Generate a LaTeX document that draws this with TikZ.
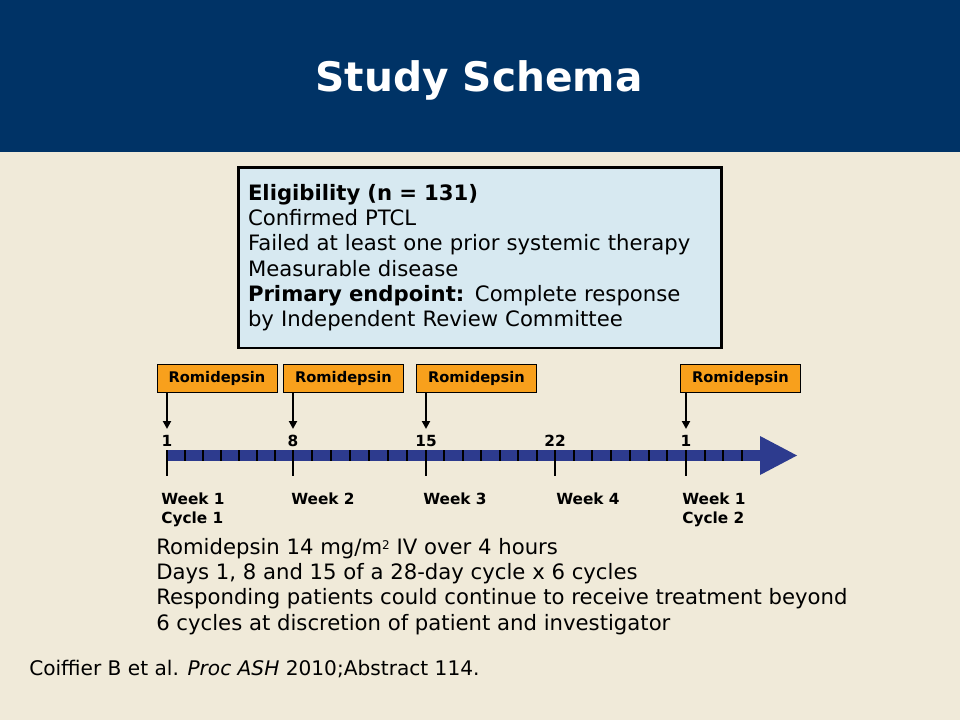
\documentclass[tikz,border=0pt]{standalone}
\usepackage{fontspec}
\setmainfont{DejaVu Sans}
\newfontfamily\condfont{DejaVu Sans Condensed}
\usepackage{xcolor}
\usetikzlibrary{positioning}
\usetikzlibrary{arrows.meta}
\definecolor{headblue}{HTML}{003366}
\definecolor{slidebg}{HTML}{F0EAD9}
\definecolor{eligfill}{HTML}{D7E9F1}
\definecolor{doseorange}{HTML}{F8A01C}
\definecolor{barblue}{HTML}{2D3B8E}

\begin{document}
\begin{tikzpicture}
  [
    x=0.75pt, y=-0.75pt,
    title/.style={
       text=white,
       font=\fontsize{30.5}{36}\selectfont\bfseries,
       anchor=base
    },
    eligbox/.style={
       draw=black,
       line width=2pt,
       fill=eligfill,
       minimum width=362pt,
       minimum height=135.5pt,
       text width=348pt,
       align=left,
       inner xsep=7pt,
       font=\fontsize{15.9}{18.9}\selectfont
    },
    romi/.style={
       draw=black,
       fill=doseorange,
       minimum width=90pt,
       minimum height=21pt,
       inner sep=0pt,
       font=\fontsize{11}{12}\selectfont\bfseries
    },
    dose/.style={
       draw=black,
       line width=1.5pt,
       -{Triangle[length=6pt,width=6pt]}
    },
    daytick/.style={
       draw=black,
       line width=1.5pt
    },
    weektick/.style={
       draw=black,
       line width=2pt
    },
    daynum/.style={
       anchor=base,
       inner sep=0pt,
       font=\fontsize{11.5}{13}\selectfont\bfseries
    },
    week/.style={
       anchor=base west,
       inner sep=0pt,
       font=\fontsize{11.5}{13}\selectfont\bfseries
    }
  ]
  \fill [slidebg]  (0,0) rectangle (960,720);
  \fill [headblue] (0,0) rectangle (960,152);

  \node (title) at (479,91.5) [title] {Study Schema};

  \node (elig) at (480,257.7) [eligbox]
        {\textbf{Eligibility (n = 131)}\\
         Confirmed PTCL\\
         Failed at least one prior systemic therapy\\
         Measurable disease\\
         \textbf{Primary endpoint:} Complete response\\
         by Independent Review Committee};

  \node (rom1) at (217.0,378.5) [romi] {Romidepsin};
  \node (rom2) at (343.5,378.5) [romi] {Romidepsin};
  \node (rom3) at (476.5,378.5) [romi] {Romidepsin};
  \node (rom4) at (740.5,378.5) [romi] {Romidepsin};

  \coordinate (a1) at (167,429);
  \coordinate (a2) at (293,429);
  \coordinate (a3) at (426,429);
  \coordinate (a4) at (686,429);
  \draw [dose] (rom1.south -| a1) -- (a1);
  \draw [dose] (rom2.south -| a2) -- (a2);
  \draw [dose] (rom3.south -| a3) -- (a3);
  \draw [dose] (rom4.south -| a4) -- (a4);

  \node (n1)  at (167,446) [daynum] {1};
  \node (n8)  at (293,446) [daynum] {8};
  \node (n15) at (426,446) [daynum] {15};
  \node (n22) at (555,446) [daynum] {22};
  \node (n29) at (686,446) [daynum] {1};

  \fill [barblue] (167,450) rectangle (760,461);
  \fill [barblue] (760,436) -- (797,455.5) -- (760,475) -- cycle;
  \foreach \a/\b in {167/293, 293/426, 426/555, 555/686}
    \foreach \k in {1,...,6}
      \draw [daytick] ({\a+\k*(\b-\a)/7},450) -- ++(0,11);
  \foreach \x in {704.7, 723.4, 742}
    \draw [daytick] (\x,450) -- ++(0,11);
  \foreach \x in {167, 293, 426, 555, 686}
    \draw [weektick] (\x,450) -- (\x,476);

  \node (wk1) at (161,504) [week] {Week 1};
  \node (cy1) at (161,523) [week] {Cycle 1};
  \node (wk2) at (291,504) [week] {Week 2};
  \node (wk3) at (423,504) [week] {Week 3};
  \node (wk4) at (556,504) [week] {Week 4};
  \node (wk5) at (682,504) [week] {Week 1};
  \node (cy2) at (682,523) [week] {Cycle 2};

  \node (regimen) at (156,586.5) [anchor=west, inner sep=0pt, align=left,
        font=\fontsize{15.9}{18.9}\selectfont]
        {Romidepsin 14 mg/m{\fontsize{9}{9}\selectfont\raisebox{3.5pt}{2}} IV over 4 hours\\
         Days 1, 8 and 15 of a 28-day cycle x 6 cycles\\
         Responding patients could continue to receive treatment beyond\\
         6 cycles at discretion of patient and investigator};

  \node (cite) at (29,675) [anchor=base west, inner sep=0pt,
        font=\fontsize{15.1}{17}\selectfont]
        {Coiffier B et al. \textit{Proc ASH} 2010;Abstract 114.};
\end{tikzpicture}
\end{document}
